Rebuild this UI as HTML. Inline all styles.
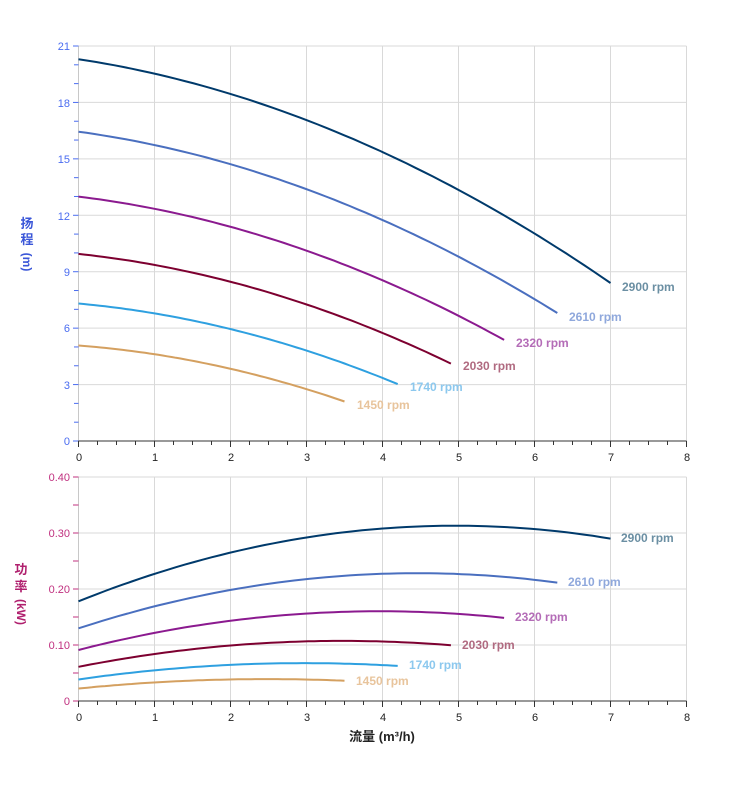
<!DOCTYPE html>
<html><head><meta charset="utf-8"><style>
html,body{margin:0;padding:0;background:#fff;}
svg{display:block;font-family:"Liberation Sans","Noto Sans CJK SC",sans-serif;}
</style></head><body>
<svg id="s" width="752" height="797" viewBox="0 0 752 797" xmlns="http://www.w3.org/2000/svg">
<g id="grid" stroke="#d9d9d9" stroke-width="1" fill="none"></g>
<g id="axes"></g>
<g id="curves" fill="none" stroke-width="2"></g>
<g font-size="11" fill="#4a6cf0" text-anchor="end">
<text x="70" y="50">21</text><text x="70" y="107">18</text><text x="70" y="163">15</text><text x="70" y="220">12</text><text x="70" y="276">9</text><text x="70" y="332">6</text><text x="70" y="389">3</text><text x="70" y="445">0</text>
</g>
<g font-size="11" fill="#c0307f" text-anchor="end">
<text x="70" y="481">0.40</text><text x="70" y="537">0.30</text><text x="70" y="593">0.20</text><text x="70" y="649">0.10</text><text x="70" y="705">0</text>
</g>
<g font-size="11" fill="#222" text-anchor="middle">
<text x="79" y="461">0</text><text x="155" y="461">1</text><text x="231" y="461">2</text><text x="307" y="461">3</text><text x="383" y="461">4</text><text x="459" y="461">5</text><text x="535" y="461">6</text><text x="611" y="461">7</text><text x="687" y="461">8</text>
<text x="79" y="721">0</text><text x="155" y="721">1</text><text x="231" y="721">2</text><text x="307" y="721">3</text><text x="383" y="721">4</text><text x="459" y="721">5</text><text x="535" y="721">6</text><text x="611" y="721">7</text><text x="687" y="721">8</text>
</g>
<g font-size="13" font-weight="bold" fill="#3a56d8" text-anchor="middle">
<text x="27" y="228">扬</text><text x="27" y="244">程</text>
<text transform="translate(23,262) rotate(90)" text-anchor="middle" font-size="12">(m)</text>
</g>
<g font-size="13" font-weight="bold" fill="#b0206e" text-anchor="middle">
<text x="21" y="574">功</text><text x="21" y="591">率</text>
<text transform="translate(17,612) rotate(90)" text-anchor="middle" font-size="12">(kW)</text>
</g>
<text x="382" y="741" font-size="13" font-weight="bold" fill="#222" text-anchor="middle">流量 (m³/h)</text>
<g font-size="12" font-weight="bold">
<text x="622" y="291" fill="#6b8fa3">2900 rpm</text>
<text x="569" y="321" fill="#8fa8dc">2610 rpm</text>
<text x="516" y="347" fill="#b46cb7">2320 rpm</text>
<text x="463" y="370" fill="#b06a80">2030 rpm</text>
<text x="410" y="391" fill="#8cc8ee">1740 rpm</text>
<text x="357" y="409" fill="#e8c49c">1450 rpm</text>
<text x="621" y="542" fill="#6b8fa3">2900 rpm</text>
<text x="568" y="586" fill="#8fa8dc">2610 rpm</text>
<text x="515" y="621" fill="#b46cb7">2320 rpm</text>
<text x="462" y="649" fill="#b06a80">2030 rpm</text>
<text x="409" y="669" fill="#8cc8ee">1740 rpm</text>
<text x="356" y="685" fill="#e8c49c">1450 rpm</text>
</g>
</svg>
<script>
var NS="http://www.w3.org/2000/svg";
function el(p,t,a){var e=document.createElementNS(NS,t);for(var k in a)e.setAttribute(k,a[k]);document.getElementById(p).appendChild(e);return e;}
var X0=78.5,SX=76;
for(var i=1;i<=8;i++){var x=X0+i*SX;el('grid','line',{x1:x,y1:46,x2:x,y2:441});el('grid','line',{x1:x,y1:477,x2:x,y2:701});}
for(var h=3;h<=21;h+=3){var y=441-h*395/21;el('grid','line',{x1:X0,y1:y,x2:686.5,y2:y});}
for(var p=0.1;p<=0.41;p+=0.1){var y=701-p*560;el('grid','line',{x1:X0,y1:y,x2:686.5,y2:y});}
el('axes','line',{x1:X0,y1:46,x2:X0,y2:441,stroke:'#c8c8c8','stroke-width':1});
el('axes','line',{x1:X0,y1:477,x2:X0,y2:701,stroke:'#c8c8c8','stroke-width':1});
el('axes','line',{x1:X0,y1:441,x2:686.5,y2:441,stroke:'#333','stroke-width':1});
el('axes','line',{x1:X0,y1:701,x2:686.5,y2:701,stroke:'#333','stroke-width':1});
for(var h=0;h<=21;h++){var y=441-h*395/21;el('axes','line',{x1:h%3?74:73,y1:y,x2:X0,y2:y,stroke:'#4a6cf0'});}
for(var k=0;k<=8;k++){var y=701-k*0.05*560;el('axes','line',{x1:73,y1:y,x2:X0,y2:y,stroke:'#c0307f'});}
for(var k=0;k<=32;k++){var x=X0+k*19;var L=k%4?4:6;el('axes','line',{x1:x,y1:441,x2:x,y2:441+L,stroke:'#333'});el('axes','line',{x1:x,y1:701,x2:x,y2:701+L,stroke:'#333'});}
var sp=[[2900,'#003a6b'],[2610,'#4a6fbf'],[2320,'#8b1a8f'],[2030,'#7d0030'],[1740,'#2ea0e0'],[1450,'#d4a060']];
sp.forEach(function(s){var r=s[0]/2900,qm=7*r,dh='',dp='';
for(var j=0;j<=60;j++){var q=qm*j/60;
var H=20.3*r*r-0.615*r*q-0.155*q*q;
var P=0.178*r*r*r+0.0545*r*r*q-0.0055*r*q*q;
var x=(X0+q*SX).toFixed(1);
dh+=(j?'L':'M')+x+','+(441-H*395/21).toFixed(1);
dp+=(j?'L':'M')+x+','+(701-P*560).toFixed(1);}
el('curves','path',{d:dh,stroke:s[1]});el('curves','path',{d:dp,stroke:s[1]});});
</script>
</body></html>
